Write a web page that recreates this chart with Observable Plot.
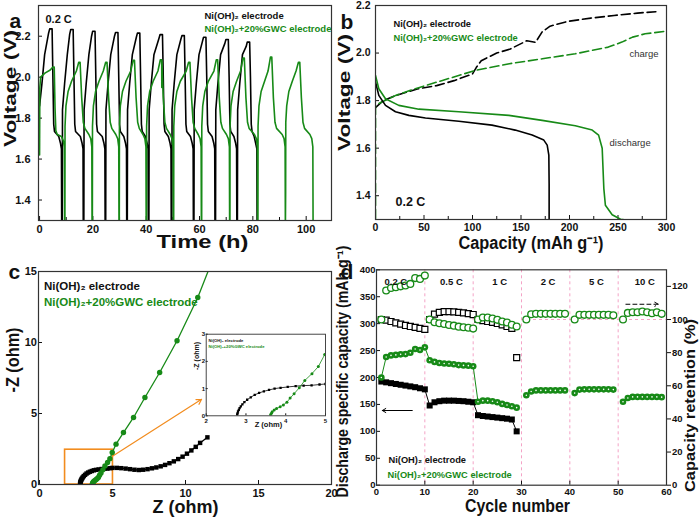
<!DOCTYPE html>
<html><head><meta charset="utf-8">
<script src="https://cdn.jsdelivr.net/npm/d3@7"></script>
<script src="https://cdn.jsdelivr.net/npm/@observablehq/plot@0.6"></script>
<style>
html,body{margin:0;padding:0;background:#fff;}
#root{position:relative;width:700px;height:524px;overflow:hidden;background:#fff;}
</style></head>
<body><div id="root"></div>
<script>
// ---------------- DATA ----------------
const legendLabels = ["Ni(OH)\u2082 electrode", "Ni(OH)\u2082+20%GWC electrode"];
// (a) galvanostatic charge/discharge vs time [h, V]
const gcdBlack = [
[0,1.86],[0.9,1.97],[1.9,2.11],[3.4,2.216],[3.8,2.236],[4.7,2.236],[5.0,2.0],[5.3,1.77],[5.6,1.735],[7.2,1.71],[7.8,1.68],[8.2,1.65],[8.3,1.25],
[8.5,1.25],[8.6,1.84],[9.4,1.97],[10.4,2.11],[11.3,2.21],[11.7,2.233],[12.6,2.233],[12.9,2.0],[13.2,1.77],[13.5,1.735],[15.3,1.71],[15.9,1.68],[16.3,1.65],[16.4,1.25],
[16.6,1.25],[16.7,1.84],[17.5,1.97],[18.5,2.11],[19.5,2.2],[19.9,2.224],[20.8,2.224],[21.1,2.0],[21.4,1.77],[21.7,1.735],[23.5,1.71],[24.1,1.68],[24.5,1.65],[24.6,1.25],
[24.8,1.25],[24.9,1.84],[25.7,1.97],[26.7,2.11],[28.1,2.2],[28.5,2.218],[29.4,2.218],[29.7,2.0],[30.0,1.77],[30.3,1.735],[31.6,1.71],[32.2,1.68],[32.6,1.65],[32.7,1.25],
[32.9,1.25],[33.0,1.84],[33.8,1.97],[34.8,2.11],[36.3,2.195],[36.7,2.215],[37.6,2.215],[37.9,2.0],[38.2,1.77],[38.5,1.735],[39.7,1.71],[40.3,1.68],[40.7,1.65],[40.8,1.25],
[41.0,1.25],[41.1,1.84],[41.9,1.97],[42.9,2.11],[44.8,2.19],[45.2,2.208],[46.1,2.208],[46.4,2.0],[46.7,1.77],[47.0,1.735],[48.3,1.71],[48.9,1.68],[49.3,1.65],[49.4,1.25],
[49.6,1.25],[49.7,1.84],[50.5,1.97],[51.5,2.11],[53.0,2.185],[53.4,2.203],[54.3,2.203],[54.6,2.0],[54.9,1.77],[55.2,1.735],[56.6,1.71],[57.2,1.68],[57.6,1.65],[57.7,1.25],
[57.9,1.25],[58.0,1.84],[58.8,1.97],[59.8,2.11],[61.1,2.175],[61.5,2.195],[62.4,2.195],[62.7,2.0],[63.0,1.77],[63.3,1.735],[64.7,1.71],[65.3,1.68],[65.7,1.65],[65.8,1.25],
[66.0,1.25],[66.1,1.84],[66.9,1.97],[67.9,2.11],[69.5,2.165],[69.9,2.184],[70.8,2.184],[71.1,2.0],[71.4,1.77],[71.7,1.735],[72.9,1.71],[73.5,1.68],[73.9,1.65],[74.0,1.25],
[74.2,1.25],[74.3,1.84],[75.1,1.97],[76.1,2.11],[77.5,2.15],[77.9,2.171],[78.8,2.171],[79.1,2.0],[79.4,1.77],[79.7,1.735],[80.5,1.71],[81.0,1.68],[81.5,1.65],[81.6,1.25]
];
const gcdGreen = [
[0,1.62],[0.1,1.95],[0.4,2.0],[2.0,2.02],[4.0,2.035],[5.0,2.05],[5.5,2.05],[5.8,1.85],[6.1,1.74],[6.6,1.72],[8.2,1.71],[8.9,1.69],[9.3,1.66],[9.4,1.25],
[9.5,1.25],[9.55,1.76],[9.9,1.86],[10.7,1.93],[12.0,1.98],[13.8,2.03],[14.7,2.073],[15.2,2.073],[15.8,1.9],[16.4,1.78],[17.0,1.75],[18.5,1.72],[19.2,1.70],[19.6,1.66],[19.7,1.25],
[19.8,1.25],[19.85,1.76],[20.2,1.86],[21.0,1.93],[22.3,1.98],[23.9,2.03],[24.8,2.073],[25.3,2.073],[25.9,1.9],[26.5,1.78],[27.1,1.75],[28.6,1.72],[29.3,1.70],[29.7,1.66],[29.8,1.25],
[29.9,1.25],[29.95,1.76],[30.3,1.86],[31.1,1.93],[32.4,1.98],[34.2,2.03],[35.1,2.082],[35.6,2.082],[36.2,1.9],[36.8,1.78],[37.4,1.75],[38.8,1.72],[39.5,1.70],[39.9,1.66],[40.0,1.25],
[40.1,1.25],[40.15,1.76],[40.5,1.86],[41.3,1.93],[42.6,1.98],[44.4,2.03],[45.3,2.085],[45.8,2.085],[45.85,1.95],[45.9,2.08],[46.4,1.9],[47.0,1.78],[47.6,1.75],[49.0,1.72],[49.7,1.70],[50.1,1.66],[50.2,1.25],
[50.3,1.25],[50.35,1.76],[50.7,1.86],[51.5,1.93],[52.8,1.98],[55.0,2.03],[55.9,2.073],[56.4,2.073],[57.0,1.9],[57.6,1.78],[58.2,1.75],[59.5,1.72],[60.2,1.70],[60.6,1.66],[60.7,1.25],
[60.8,1.25],[60.85,1.76],[61.2,1.86],[62.0,1.93],[63.3,1.98],[65.4,2.03],[66.3,2.085],[66.8,2.085],[67.4,1.9],[68.0,1.78],[68.6,1.75],[70.1,1.72],[70.8,1.70],[71.2,1.66],[71.3,1.25],
[71.4,1.25],[71.45,1.76],[71.8,1.86],[72.6,1.93],[73.9,1.98],[75.4,2.03],[76.3,2.093],[76.8,2.093],[77.4,1.9],[78.0,1.78],[78.6,1.75],[80.6,1.72],[81.3,1.70],[81.7,1.66],[81.8,1.25],
[81.9,1.25],[81.95,1.76],[82.3,1.86],[83.1,1.93],[84.4,1.98],[85.7,2.03],[86.6,2.098],[87.1,2.098],[87.7,1.9],[88.3,1.78],[88.9,1.75],[91.0,1.72],[91.7,1.70],[92.1,1.66],[92.2,1.25],
[92.3,1.44],[92.35,1.78],[92.7,1.86],[93.5,1.93],[94.8,1.98],[96.2,2.03],[97.1,2.073],[97.6,2.073],[98.2,1.9],[98.8,1.78],[99.4,1.75],[101.4,1.72],[102.1,1.70],[102.5,1.66],[102.6,1.25]
];
const timeTicks = [0,20,40,60,80,100];
const timeMinorTicks = [10,30,50,70,90];
const voltTicks = [1.4,1.6,1.8,2.0,2.2];

// (b) capacity curves [mAh/g, V]
const dischargeBlack = [[0,1.878],[3.4,1.822],[10.3,1.78],[20.6,1.753],[34.4,1.738],[51.5,1.727],[85.9,1.713],[120,1.697],[144,1.676],[161.5,1.655],[173.5,1.634],[177,1.613],[178.7,1.571],[179,1.45],[179,1.25]];
const dischargeGreen = [[0,1.906],[3.4,1.85],[10.3,1.808],[24,1.78],[44.7,1.764],[85.9,1.753],[137.5,1.738],[171.8,1.717],[206,1.694],[223.4,1.676],[230,1.655],[233.7,1.6],[235.4,1.43],[237,1.36],[244,1.32],[252.6,1.301],[258,1.298]];
const chargeBlack = [[0,1.77],[8,1.8],[20,1.82],[43,1.849],[63,1.863],[81,1.884],[100,1.912],[104,1.94],[109,1.968],[125,2.0],[139,2.017],[156,2.052],[165,2.045],[172,2.09],[180,2.113],[198,2.133],[222,2.147],[246,2.158],[270,2.168],[289,2.174]];
const chargeGreen = [[0,1.25],[0,1.78],[7,1.795],[21,1.822],[41,1.85],[69,1.885],[103,1.927],[138,1.955],[172,1.976],[206,1.997],[240,2.025],[254,2.046],[265,2.067],[278,2.081],[300,2.092]];
const capTicksB = [0,50,100,150,200,250,300];
const capMinorTicksB = [25,75,125,175,225,275];

// (c) Nyquist [Z', -Z'']
const eisBlack = [[2.78,0.0],[2.78,0.05],[2.79,0.1],[2.80,0.16],[2.82,0.22],[2.84,0.28],[2.87,0.35],[2.91,0.42],[2.96,0.5],[3.03,0.59],[3.12,0.68],[3.22,0.77],[3.33,0.84],[3.45,0.9],[3.58,0.95],[3.72,1.0],[3.87,1.03],[4.05,1.06],[4.25,1.09],[4.45,1.11],[4.65,1.12],[4.85,1.15],[5.0,1.17],[5.3,1.17],[5.6,1.15],[5.9,1.12],[6.2,1.08],[6.5,1.04],[6.8,1.02],[7.1,1.04],[7.4,1.08],[7.7,1.14],[8.0,1.2],[8.3,1.28],[8.6,1.38],[8.9,1.5],[9.2,1.63],[9.5,1.79],[9.8,1.96],[10.1,2.17],[10.4,2.4],[10.7,2.65],[11.0,2.93],[11.5,3.32]];
const eisGreen = [[3.62,0.0],[3.62,0.04],[3.64,0.09],[3.66,0.15],[3.71,0.21],[3.77,0.27],[3.86,0.33],[3.94,0.40],[4.03,0.50],[4.11,0.65],[4.21,0.81],[4.34,1.03],[4.48,1.30],[4.66,1.55],[4.82,1.81],[4.98,2.25],[5.24,2.84],[5.75,3.66],[6.44,4.72],[7.22,6.13],[8.23,7.89],[9.42,10.12],[10.84,13.17],[12.0,16.2]];
const zoomBox = [{x1:1.75, x2:5.03, y1:0, y2:2.45}];
const zoomArrow = [{x1:5.02, y1:2.0, x2:11.1, y2:6.0}];
const zTicks = [0,5,10,15,20];
const zimTicks = [0,5,10,15];
const insetZTicks = [2,3,4,5];
const insetZimTicks = [0,1,2,3];

// (d) rate performance
const cyclesBlack = [1,2,3,4,5,6,7,8,9,10,11,12,13,14,15,16,17,18,19,20,21,22,23,24,25,26,27,28,29];
const capBlack = [192.5,191,189.5,188,186.5,185,183.5,182,180,178, 148,154,156,157,157,157,156.5,156,155,154, 130,128.5,127.5,126.5,125.5,124.5,123.5,122,100];
const retBlack = [100,99.6,98.8,98.0,97.2,96.4,95.8,95.2,94.6,94.0, 100,103.3,104.3,104.8,104.8,104.6,104.3,104.0,103.6,103.0, 100,99.3,98.8,98.3,97.6,96.8,95.8,94.6,77];
const cyclesGreen = [1,2,3,4,5,6,7,8,9,10,11,12,13,14,15,16,17,18,19,20,21,22,23,24,25,26,27,28,29, 31,32,33,34,35,36,37,38,39, 41,42,43,44,45,46,47,48,49, 51,52,53,54,55,56,57,58,59];
const capGreen = [200,238,241,242,243,243.5,246,253,251,256, 232,229,227,226,225.5,224.5,223,222.5,222,221, 155,157,157,156,154,151,149,146.5,144, 167,174,176,176,176,176,176,176,176, 171,177.5,178,178,178,178,178,178,177.5, 155,162,164,164,164,164,164,164,163.5];
const retGreen = [100,117.5,119,119.5,120,120.5,121.5,125,124.5,126.5, 100,98.3,97.7,97.3,96.7,96.3,95.7,95.3,95.0,94.5, 100,101.2,101.2,100.6,99.8,98.8,98.2,96.8,95.8, 100,103.2,103.4,103.4,103.4,103.4,103.4,103.4,103.4, 100,102.8,102.8,102.8,102.8,102.8,102.8,102.8,102.5, 100,104,104.4,104.4,104.8,104.4,103.8,104.4,103.4];
const rateLabels = ["0.2 C","0.5 C","1 C","2 C","5 C","10 C"];
const rateStarts = [0,10,20,30,40,50];
const rateBoundaries = [10,20,30,40,50];
const capArrow = [{x1:7.4, x2:1.2, y:138.7}];
const retArrow = [{x1:51.6, x2:58.3, y:336}];
const cycleTicks = [0,10,20,30,40,50,60];
const capTicksD = [0,50,100,150,200,250,300,350,400];
const retTicks = [0,20,40,60,80,100,120];

// ---------------- DRAW ----------------
const GREEN = "#178a17";
const ORANGE = "#f28c1e";
const PINK = "#f4a3c6";
const FONT = "'Liberation Sans', Arial, Helvetica, sans-serif";
const root = document.getElementById("root");
const pts = a => a.map(([x, y]) => ({x, y}));
const style = fs => ({fontFamily: FONT, fontWeight: "bold", fontSize: fs + "px", color: "#111", background: "transparent", overflow: "visible"});
const T = (s, o) => Plot.text([s], {text: d => d, fontWeight: "bold", fill: "#111", ...o});
function mount(svg, left, top) {
  svg.style.position = "absolute"; svg.style.left = left + "px"; svg.style.top = top + "px";
  svg.style.overflow = "visible"; svg.style.maxWidth = "none";
  root.appendChild(svg);
}
function fit(svg, str, len) {
  d3.select(svg).selectAll("text").filter(function(){ return this.textContent === str; })
    .attr("textLength", len).attr("lengthAdjust", "spacingAndGlyphs");
}
const frame = () => Plot.frame({stroke: "#333", strokeWidth: 1.2});
const f1 = d3.format(".1f");
const intFmt = d => String(d);

// Panel a
const svgA = Plot.plot({
  width: 350, height: 262, marginLeft: 38, marginRight: 19, marginTop: 5, marginBottom: 42,
  style: style(11),
  x: {domain: [-0.4, 109.5]}, y: {domain: [1.3, 2.35]},
  marks: [
    Plot.axisX({ticks: timeTicks, tickSize: -4, tickPadding: 9, label: null}),
    Plot.axisX({ticks: timeMinorTicks, tickSize: -3, tickFormat: () => "", label: null}),
    Plot.axisY({ticks: voltTicks, tickSize: -4, tickPadding: 12, tickFormat: f1, label: null}),
    Plot.line(pts(gcdBlack), {x: "x", y: "y", stroke: "#000", strokeWidth: 1.6, clip: true}),
    Plot.line(pts(gcdGreen), {x: "x", y: "y", stroke: GREEN, strokeWidth: 1.6, clip: true}),
    frame(),
    T("0.2 C", {frameAnchor: "top-left", dx: 7, dy: 10, textAnchor: "start", fontSize: 11}),
    T(legendLabels[0], {frameAnchor: "top-left", dx: 166, dy: 7, textAnchor: "start", fontSize: 9.5}),
    T(legendLabels[1], {frameAnchor: "top-left", dx: 166, dy: 20, textAnchor: "start", fontSize: 9.5, fill: GREEN}),
    T("Time (h)", {frameAnchor: "bottom", dx: 17.5, dy: 27.5, fontSize: 18}),
    T("Voltage (V)", {frameAnchor: "left", dx: -28, dy: 34, rotate: -90, textAnchor: "start", fontSize: 16}),
    T("a", {frameAnchor: "top-left", dx: -29, dy: 8, fontSize: 21})
  ]
});
fit(svgA, "Time (h)", 92); fit(svgA, "Voltage (V)", 117);
mount(svgA, 0, 0);

// Panel b
const svgB = Plot.plot({
  width: 350, height: 262, marginLeft: 25, marginRight: 34, marginTop: 5, marginBottom: 43,
  style: style(10.5),
  x: {domain: [0, 300]}, y: {domain: [1.3, 2.2]},
  marks: [
    Plot.axisX({ticks: capTicksB, tickSize: -4, tickPadding: 8, label: null}),
    Plot.axisX({ticks: capMinorTicksB, tickSize: -3, tickFormat: () => "", label: null}),
    Plot.axisY({ticks: voltTicks, tickSize: -4, tickPadding: 9, tickFormat: f1, label: null}),
    Plot.line(pts(chargeBlack), {x: "x", y: "y", stroke: "#000", strokeWidth: 1.6, strokeDasharray: "9,4", clip: true}),
    Plot.line(pts(chargeGreen), {x: "x", y: "y", stroke: GREEN, strokeWidth: 1.6, strokeDasharray: "9,4", clip: true}),
    Plot.line(pts(dischargeBlack), {x: "x", y: "y", stroke: "#000", strokeWidth: 1.6, clip: true}),
    Plot.line(pts(dischargeGreen), {x: "x", y: "y", stroke: GREEN, strokeWidth: 1.6, clip: true}),
    frame(),
    T(legendLabels[0], {frameAnchor: "top-left", dx: 18, dy: 14.5, textAnchor: "start", fontSize: 9.3}),
    T(legendLabels[1], {frameAnchor: "top-left", dx: 18, dy: 28.5, textAnchor: "start", fontSize: 9.3, fill: GREEN}),
    T("charge", {frameAnchor: "top-left", dx: 254, dy: 45, textAnchor: "start", fontSize: 9.5, fontWeight: "normal", fill: "#333"}),
    T("discharge", {frameAnchor: "top-left", dx: 234, dy: 134, textAnchor: "start", fontSize: 9.5, fontWeight: "normal", fill: "#333"}),
    T("0.2 C", {frameAnchor: "top-left", dx: 20, dy: 191.5, textAnchor: "start", fontSize: 12.5}),
    T("Capacity (mAh g\u207B\u00B9)", {frameAnchor: "bottom", dx: 10, dy: 29, fontSize: 18}),
    T("Voltage (V)", {frameAnchor: "left", dx: -31, dy: 38.5, rotate: -90, textAnchor: "start", fontSize: 16}),
    T("b", {frameAnchor: "top-left", dx: -35, dy: 8.3, fontSize: 21})
  ]
});
fit(svgB, "Capacity (mAh g\u207B\u00B9)", 145); fit(svgB, "Voltage (V)", 117);
mount(svgB, 350, 0);

// Panel c
const svgC = Plot.plot({
  width: 350, height: 262, marginLeft: 38, marginRight: 19, marginTop: 9, marginBottom: 40,
  style: style(11),
  x: {domain: [-0.07, 20]}, y: {domain: [0, 15]},
  marks: [
    Plot.axisX({ticks: zTicks, tickSize: -4, tickPadding: 8.5, label: null}),
    Plot.axisY({ticks: zimTicks, tickSize: -4, tickPadding: 5.5, label: null}),
    Plot.rect(zoomBox, {x1: "x1", x2: "x2", y1: "y1", y2: "y2", stroke: ORANGE, strokeWidth: 1.6, fill: "none"}),
    Plot.arrow(zoomArrow, {x1: "x1", y1: "y1", x2: "x2", y2: "y2", stroke: ORANGE, strokeWidth: 1.2, headLength: 7}),
    Plot.line(pts(eisBlack), {x: "x", y: "y", stroke: "#000", strokeWidth: 1.3, clip: true}),
    Plot.dot(pts(eisBlack), {x: "x", y: "y", symbol: "square", r: 2.5, fill: "#000", clip: true}),
    Plot.line(pts(eisGreen), {x: "x", y: "y", stroke: GREEN, strokeWidth: 1.3, clip: true}),
    Plot.dot(pts(eisGreen), {x: "x", y: "y", r: 2.7, fill: GREEN, clip: true}),
    frame(),
    T(legendLabels[0], {frameAnchor: "top-left", dx: 5.5, dy: 10, textAnchor: "start", fontSize: 11.5}),
    T(legendLabels[1], {frameAnchor: "top-left", dx: 5.5, dy: 26, textAnchor: "start", fontSize: 11.5, fill: GREEN}),
    T("Z (ohm)", {frameAnchor: "bottom", dx: 0.5, dy: 28, fontSize: 18}),
    T("-Z (ohm)", {frameAnchor: "left", dx: -25.5, dy: 14.5, rotate: -90, textAnchor: "start", fontSize: 18}),
    T("c", {frameAnchor: "top-left", dx: -30, dy: -7.7, fontSize: 21})
  ]
});
fit(svgC, "Z (ohm)", 66); fit(svgC, "-Z (ohm)", 65);
mount(svgC, 0, 262);

// Inset of panel c
const svgI = Plot.plot({
  width: 145, height: 110, marginLeft: 20.7, marginRight: 5, marginTop: 8.7, marginBottom: 19.7,
  style: style(6),
  x: {domain: [2, 5]}, y: {domain: [0, 3]},
  marks: [
    Plot.frame({fill: "white"}),
    Plot.axisX({ticks: insetZTicks, tickSize: -2, tickPadding: 4.5, tickFormat: intFmt, label: null}),
    Plot.axisY({ticks: insetZimTicks, tickSize: -2, tickPadding: 3, tickFormat: intFmt, label: null}),
    Plot.line(pts(eisBlack), {x: "x", y: "y", stroke: "#000", strokeWidth: 0.8, clip: true}),
    Plot.dot(pts(eisBlack), {x: "x", y: "y", symbol: "square", r: 1.3, fill: "#000", clip: true}),
    Plot.line(pts(eisGreen), {x: "x", y: "y", stroke: GREEN, strokeWidth: 0.8, clip: true}),
    Plot.dot(pts(eisGreen), {x: "x", y: "y", r: 1.5, fill: GREEN, clip: true}),
    Plot.frame({stroke: "#333", strokeWidth: 0.9}),
    T(legendLabels[0], {frameAnchor: "top-left", dx: 2.3, dy: 5.3, textAnchor: "start", fontSize: 4.2}),
    T(legendLabels[1], {frameAnchor: "top-left", dx: 2.3, dy: 11.3, textAnchor: "start", fontSize: 4.2, fill: GREEN}),
    T("Z (ohm)", {frameAnchor: "bottom", dx: 2.6, dy: 11, fontSize: 7.5}),
    T("-Z (ohm)", {frameAnchor: "left", dx: -9.7, dy: -5, rotate: -90, textAnchor: "start", fontSize: 7})
  ]
});
mount(svgI, 185, 325);

// Panel d (capacity, left axis)
const rowsBlack = cyclesBlack.map((c, i) => ({c, cap: capBlack[i], ret: retBlack[i]}));
const rowsGreen = cyclesGreen.map((c, i) => ({c, cap: capGreen[i], ret: retGreen[i], seg: c <= 29 ? 0 : Math.floor((c - 1) / 10)}));
const svgD = Plot.plot({
  width: 350, height: 262, marginLeft: 26, marginRight: 34, marginTop: 7.3, marginBottom: 39.3,
  style: style(9.5),
  x: {domain: [0, 60]}, y: {domain: [0, 400]},
  marks: [
    Plot.ruleX(rateBoundaries, {stroke: PINK, strokeWidth: 1, strokeDasharray: "3,3"}),
    Plot.axisX({ticks: cycleTicks, tickSize: -4, tickPadding: 7, label: null}),
    Plot.axisY({ticks: capTicksD, tickSize: -4, tickPadding: 5, label: null}),
    Plot.line(rowsBlack, {x: "c", y: "cap", stroke: "#000", strokeWidth: 1}),
    Plot.dot(rowsBlack, {x: "c", y: "cap", symbol: "square", r: 3.4, fill: "#000"}),
    Plot.line(rowsGreen, {x: "c", y: "cap", z: "seg", stroke: GREEN, strokeWidth: 1}),
    Plot.dot(rowsGreen, {x: "c", y: "cap", r: 3.3, fill: GREEN}),
    Plot.dot(rowsGreen, {x: "c", y: "cap", r: 0.8, fill: "white"}),
    Plot.arrow(capArrow, {x1: "x1", x2: "x2", y1: "y", y2: "y", stroke: "#000", strokeWidth: 1, headLength: 6}),
    Plot.arrow(retArrow, {x1: "x1", x2: "x2", y1: "y", y2: "y", stroke: "#000", strokeWidth: 1, strokeDasharray: "4,3", headLength: 6}),
    frame(),
    T(legendLabels[0], {frameAnchor: "top-left", dx: 12, dy: 187, textAnchor: "start", fontSize: 9.3}),
    T(legendLabels[1], {frameAnchor: "top-left", dx: 11, dy: 202, textAnchor: "start", fontSize: 9.3, fill: GREEN}),
    T("Cycle number", {frameAnchor: "bottom", dx: -4, dy: 26.5, fontSize: 18}),
    T("Discharge specific capacity (mAh g\u207B\u00B9)", {frameAnchor: "bottom-left", dx: -29, dy: 12.3, rotate: -90, textAnchor: "start", fontSize: 16}),
    T("d", {frameAnchor: "top-left", dx: -36, dy: -6, fontSize: 21})
  ]
});
fit(svgD, "Cycle number", 105); fit(svgD, "Discharge specific capacity (mAh g\u207B\u00B9)", 252);
mount(svgD, 350, 262);

// Panel d overlay (retention, right axis)
const svgD2 = Plot.plot({
  width: 350, height: 262, marginLeft: 26, marginRight: 34, marginTop: 7.3, marginBottom: 39.3,
  style: style(9.5),
  x: {domain: [0, 60], axis: null}, y: {domain: [0, 130], axis: null},
  marks: [
    Plot.ruleY([100], {x1: 30, x2: 60, stroke: PINK, strokeWidth: 1, strokeDasharray: "3,3"}),
    Plot.axisY({anchor: "right", ticks: retTicks, tickSize: 4, tickPadding: 1.5, label: null}),
    Plot.dot(rowsBlack, {x: "c", y: "ret", symbol: "square", r: 3.4, fill: "white", stroke: "#000", strokeWidth: 1.2}),
    Plot.dot(rowsGreen, {x: "c", y: "ret", r: 3.4, fill: "white", stroke: GREEN, strokeWidth: 1.3}),
    Plot.text(rateLabels, {text: d => d, x: (d, i) => rateStarts[i] + (i === 0 ? 4 : 5.5), frameAnchor: "top", dy: 8.5, fontSize: 9.5, fontWeight: "bold", fill: "#111"}),
    T("Capacity retention (%)", {frameAnchor: "right", dx: 24, dy: 114.5, rotate: -90, textAnchor: "start", fontSize: 15})
  ]
});
fit(svgD2, "Capacity retention (%)", 173);
mount(svgD2, 350, 262);
</script></body></html>
